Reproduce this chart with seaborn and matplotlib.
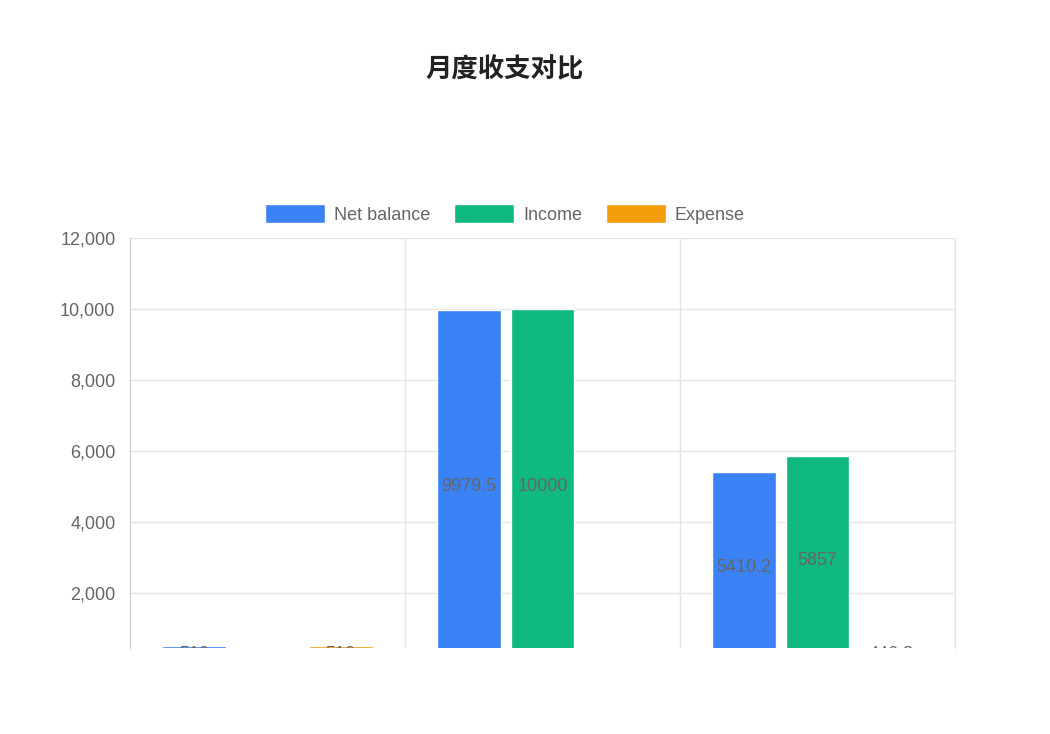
import numpy as np
import pandas as pd
import matplotlib
matplotlib.use("Agg")
import matplotlib.pyplot as plt
import seaborn as sns

# data
months = ["1月", "2月", "3月"]
series = ["Net balance", "Income", "Expense"]
net_balance = [510, 9979.5, 5410.2]
income = [0, 10000, 5857]
expense = [510, 20.5, 446.8]
colors = ["#3b82f6", "#10b981", "#f59e0b"]

df = pd.DataFrame({
    "month": months * 3,
    "series": [s for s in series for _ in months],
    "value": net_balance + income + expense,
})

sns.set_style("white")
plt.rcParams["font.family"] = ["Liberation Sans", "Noto Sans CJK SC", "DejaVu Sans"]

fig = plt.figure(figsize=(10.5, 7.34), dpi=100)
ax = fig.add_axes([130 / 1050, 86 / 734, 825 / 1050, 410 / 734])

sns.barplot(data=df, x="month", y="value", hue="series", hue_order=series,
            palette=colors, width=0.8, gap=0.13, errorbar=None,
            saturation=1, ax=ax, zorder=2)

y_lo, y_hi = 451, 12000
ax.set_ylim(y_lo, y_hi)
ax.set_xlim(-0.5, len(months) - 0.5)
ax.yaxis.set_major_locator(matplotlib.ticker.MultipleLocator(2000))
ax.yaxis.set_major_formatter(matplotlib.ticker.FuncFormatter(lambda v, p: f"{int(v):,}"))

grid_c = "#e5e5e5"
ax.grid(axis="y", color=grid_c, linewidth=1, zorder=0)
ax.set_xticks(np.arange(len(months)) + 0.5, minor=True)
ax.grid(axis="x", which="minor", color=grid_c, linewidth=1, zorder=0)
ax.tick_params(axis="x", which="both", length=0, labelbottom=False)
ax.tick_params(axis="y", length=8, width=1, color=grid_c, pad=2.5,
               labelsize=13, labelcolor="#666666")
for side in ["top", "bottom"]:
    ax.spines[side].set_visible(False)
ax.spines["left"].set_color("#cccccc")
ax.spines["right"].set_color(grid_c)
ax.set_xlabel("")
ax.set_ylabel("")

# value labels at the middle of each bar, pushed to the bottom edge when hidden
for cont, vals in zip(ax.containers, [net_balance, income, expense]):
    for bar, v in zip(cont, vals):
        if v < 100:
            continue
        yc = max(v / 2, y_lo - 180)
        ax.text(bar.get_x() + bar.get_width() / 2, yc, f"{v:g}",
                ha="center", va="center", fontsize=13, color="#666666",
                clip_on=True, zorder=3)

ax.legend(loc="lower center", bbox_to_anchor=(0.4545, 1.0), ncol=3, frameon=False,
          fontsize=13, labelcolor="#666666", handlelength=3.3, handleheight=1.3,
          handletextpad=0.5, columnspacing=1.35, borderaxespad=0.4)

fig.text(0.481, 1 - 70 / 734, "月度收支对比", ha="center", va="center",
         fontsize=19, fontweight="bold", color="#222222",
         family=["Noto Sans CJK SC", "DejaVu Sans"])

fig.savefig("out.png", dpi=100)
